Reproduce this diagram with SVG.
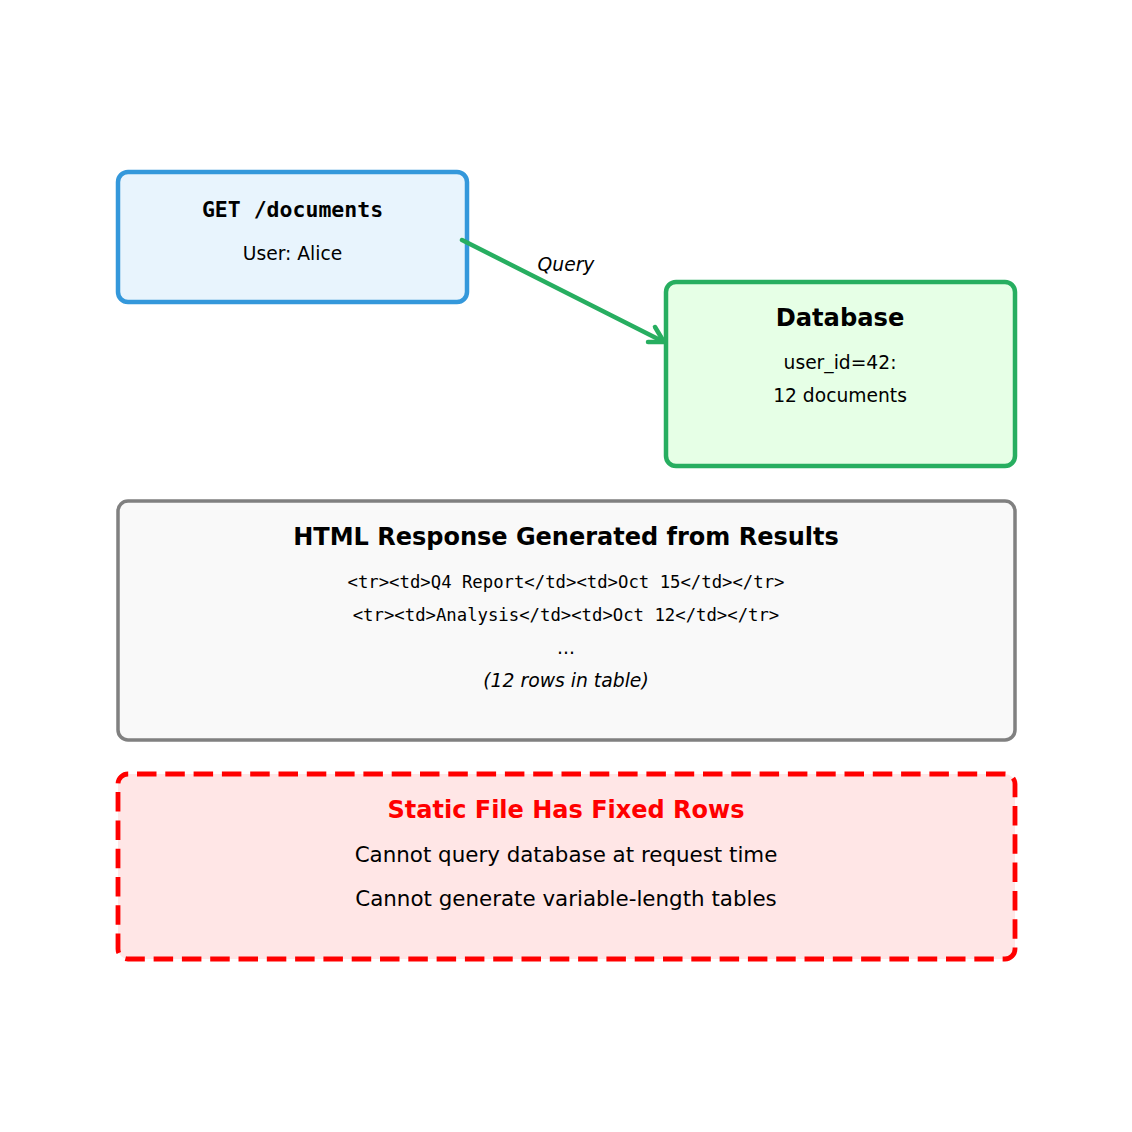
<svg xmlns="http://www.w3.org/2000/svg" width="1132" height="1132" viewBox="0 0 1132 1132">
<style>
.sans{font-family:"DejaVu Sans","Liberation Sans",sans-serif;}
.mono{font-family:"DejaVu Sans Mono","Liberation Mono",monospace;}
text{text-anchor:middle;fill:#000;}
.b{font-weight:bold;}
.i{font-style:italic;}
</style>
<rect width="1132" height="1132" fill="#ffffff"/>
<g id="request">
<rect x="118" y="172" width="349" height="130" rx="10" fill="#e8f4fd" stroke="#3498db" stroke-width="4.5"/>
<text class="mono b" x="292.5" y="217" font-size="21.5">GET /documents</text>
<text class="sans" x="292.5" y="260" font-size="18.7">User: Alice</text>
</g>
<g id="database">
<rect x="666" y="282" width="349" height="184" rx="10" fill="#e6ffe6" stroke="#27ae60" stroke-width="4.5"/>
<text class="sans b" x="840" y="326" font-size="24.2">Database</text>
<text class="sans" x="840" y="369" font-size="18.7">user_id=42:</text>
<text class="sans" x="840" y="402" font-size="18.7">12 documents</text>
</g>
<g id="html-response">
<rect x="118" y="501" width="897" height="239" rx="10" fill="#f9f9f9" stroke="#808080" stroke-width="3.5"/>
<text class="sans b" x="566" y="545" font-size="24">HTML Response Generated from Results</text>
<text class="mono" x="566" y="588" font-size="17.3">&lt;tr&gt;&lt;td&gt;Q4 Report&lt;/td&gt;&lt;td&gt;Oct 15&lt;/td&gt;&lt;/tr&gt;</text>
<text class="mono" x="566" y="621" font-size="17.3">&lt;tr&gt;&lt;td&gt;Analysis&lt;/td&gt;&lt;td&gt;Oct 12&lt;/td&gt;&lt;/tr&gt;</text>
<text class="sans" x="566" y="654" font-size="18.7">...</text>
<text class="sans i" x="566" y="687" font-size="18.8">(12 rows in table)</text>
</g>
<g id="static-file">
<rect x="118" y="774" width="897" height="185" rx="10" fill="#ffe6e6" stroke="#ff0000" stroke-width="4.8" stroke-dasharray="19.5 8.8" stroke-dashoffset="19.3"/>
<text class="sans b" x="566" y="818" font-size="24" style="fill:#ff0000">Static File Has Fixed Rows</text>
<text class="sans" x="566" y="862" font-size="21.4">Cannot query database at request time</text>
<text class="sans" x="566" y="906" font-size="21.4">Cannot generate variable-length tables</text>
</g>
<g id="connectors" stroke="#27ae60" stroke-width="4.5" fill="none" stroke-linecap="round" stroke-linejoin="round">
<line x1="462" y1="240" x2="662" y2="341"/>
<path d="M 648 342 L 664 342 L 655 327"/>
<text class="sans i" x="566" y="271" font-size="18.7" stroke="none" style="fill:#000">Query</text>
</g>
</svg>
